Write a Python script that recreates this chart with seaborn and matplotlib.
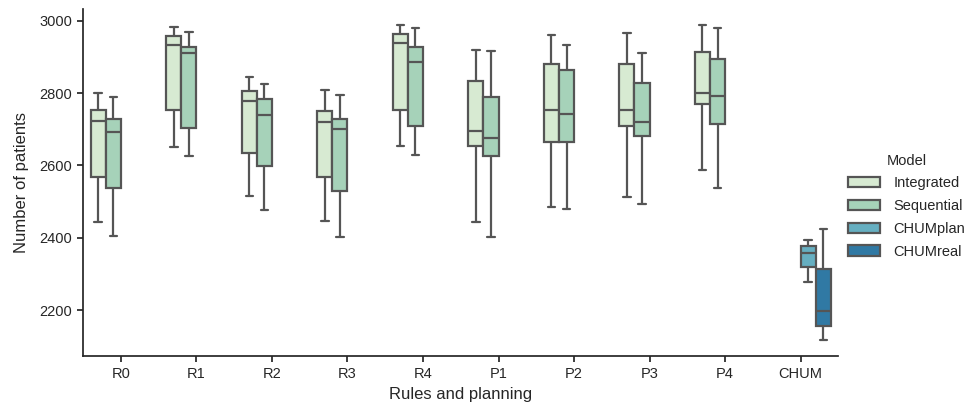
import pandas as pd
import matplotlib.pyplot as plt
import seaborn as sns

# Five values per box: lower whisker, Q1, median, Q3, upper whisker
categories = ['R0', 'R1', 'R2', 'R3', 'R4', 'P1', 'P2', 'P3', 'P4']
models = ['Integrated', 'Sequential', 'CHUMplan', 'CHUMreal']

integrated = [
    [2443, 2568, 2723, 2754, 2801],  # R0
    [2652, 2754, 2934, 2957, 2983],  # R1
    [2515, 2634, 2778, 2807, 2844],  # R2
    [2446, 2568, 2721, 2751, 2808],  # R3
    [2655, 2754, 2937, 2962, 2989],  # R4
    [2443, 2655, 2695, 2834, 2920],  # P1
    [2485, 2666, 2754, 2880, 2960],  # P2
    [2512, 2710, 2752, 2880, 2966],  # P3
    [2588, 2769, 2801, 2914, 2989],  # P4
]
sequential = [
    [2406, 2538, 2691, 2729, 2790],
    [2625, 2704, 2911, 2926, 2970],
    [2476, 2599, 2738, 2784, 2824],
    [2403, 2528, 2701, 2729, 2794],
    [2628, 2708, 2887, 2926, 2979],
    [2402, 2626, 2676, 2790, 2915],
    [2479, 2664, 2743, 2863, 2934],
    [2492, 2681, 2721, 2827, 2910],
    [2538, 2714, 2791, 2893, 2979],
]
chum_plan = [2277, 2320, 2359, 2377, 2394]
chum_real = [2117, 2157, 2197, 2314, 2425]

rows = []
for cat, vals in zip(categories, integrated):
    rows += [(cat, 'Integrated', v) for v in vals]
for cat, vals in zip(categories, sequential):
    rows += [(cat, 'Sequential', v) for v in vals]
rows += [('CHUM', 'CHUMplan', v) for v in chum_plan]
rows += [('CHUM', 'CHUMreal', v) for v in chum_real]
df = pd.DataFrame(rows, columns=['Rules and planning', 'Model', 'Number of patients'])

sns.set_theme(style='ticks')
plt.rcParams['font.family'] = ['Liberation Sans', 'DejaVu Sans']
plt.rcParams['xtick.labelsize'] = 10.5
plt.rcParams['ytick.labelsize'] = 10.5
plt.rcParams['axes.labelsize'] = 12
plt.rcParams['xtick.major.size'] = 4.5
plt.rcParams['ytick.major.size'] = 4.5

g = sns.catplot(data=df, x='Rules and planning', y='Number of patients', hue='Model',
                kind='box', order=categories + ['CHUM'], hue_order=models,
                palette='GnBu', linecolor='#555555', linewidth=1.6,
                height=4.04, aspect=2)
g.figure.set_size_inches(9.67, 4.04)
g.figure.subplots_adjust(left=0.086, right=0.867, top=0.978, bottom=0.119)
g.ax.yaxis.labelpad = 7
sns.move_legend(g, 'center right', bbox_to_anchor=(1.012, 0.49), fontsize=10.5,
                title_fontsize=10.5, handlelength=2.2, handletextpad=0.95,
                labelspacing=0.6, frameon=False)

g.figure.savefig('out.png', dpi=100)
